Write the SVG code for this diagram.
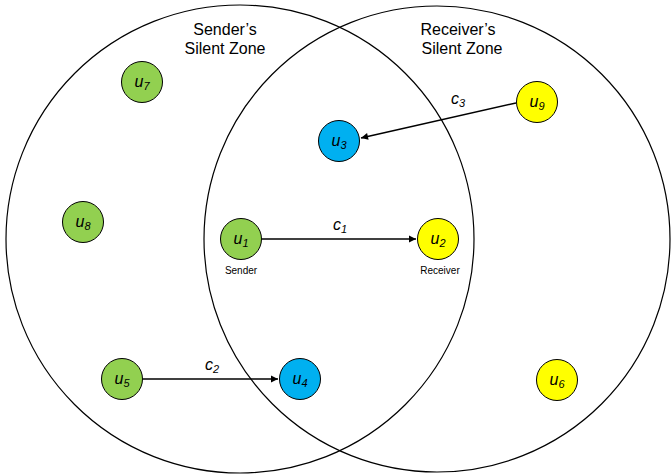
<svg xmlns="http://www.w3.org/2000/svg" width="671" height="475" viewBox="0 0 671 475">
<style>
.zone{fill:none;stroke:#000;stroke-width:1.2}
.g{fill:#92D050;stroke:#000;stroke-width:1}
.b{fill:#00B0F0;stroke:#000;stroke-width:1}
.y{fill:#FFFF00;stroke:#000;stroke-width:1}
.lbl{font-family:"Liberation Sans",Arial,sans-serif;font-style:italic;font-size:16px;text-anchor:middle}
.sub{font-size:11px}
.ttl{font-family:"Liberation Sans",Arial,sans-serif;font-size:16px;text-anchor:middle}
.small{font-family:"Liberation Sans",Arial,sans-serif;font-size:10px;text-anchor:middle}
.edge{stroke:#000;stroke-width:1.5;fill:none;marker-end:url(#ah)}
</style>
<defs>
<marker id="ah" viewBox="0 0 10 10" refX="10" refY="5" markerWidth="7" markerHeight="7" markerUnits="userSpaceOnUse" orient="auto" overflow="visible">
<path d="M0,0 L10,5 L0,10 z" fill="#000"/>
</marker>
</defs>
<rect width="671" height="475" fill="#fff"/>
<g id="zone-sender">
<circle class="zone" cx="240" cy="239" r="234"/>
<text class="ttl" x="225" y="35">Sender’s</text>
<text class="ttl" x="225" y="54">Silent Zone</text>
</g>
<g id="zone-receiver">
<circle class="zone" cx="437" cy="239" r="233"/>
<text class="ttl" x="458" y="35">Receiver’s</text>
<text class="ttl" x="462" y="54">Silent Zone</text>
</g>
<g id="connectors">
<line class="edge" x1="262" y1="239" x2="416" y2="239"/>
<text class="lbl" x="340" y="230">c<tspan class="sub" dy="3">1</tspan></text>
<line class="edge" x1="143" y1="379" x2="278" y2="379"/>
<text class="lbl" x="212" y="370">c<tspan class="sub" dy="3">2</tspan></text>
<line class="edge" x1="516" y1="103" x2="361" y2="138"/>
<text class="lbl" x="458" y="104">c<tspan class="sub" dy="3">3</tspan></text>
</g>
<g id="u1"><circle class="g" cx="241" cy="239" r="20.5"/><text class="lbl" x="241" y="244">u<tspan class="sub" dy="3">1</tspan></text><text class="small" x="241" y="274">Sender</text></g>
<g id="u2"><circle class="y" cx="438" cy="239" r="20.5"/><text class="lbl" x="438" y="244">u<tspan class="sub" dy="3">2</tspan></text><text class="small" x="440" y="274">Receiver</text></g>
<g id="u3"><circle class="b" cx="339" cy="141" r="20.5"/><text class="lbl" x="339" y="146">u<tspan class="sub" dy="3">3</tspan></text></g>
<g id="u4"><circle class="b" cx="300" cy="379" r="20.5"/><text class="lbl" x="300" y="384">u<tspan class="sub" dy="3">4</tspan></text></g>
<g id="u5"><circle class="g" cx="122" cy="379" r="20.5"/><text class="lbl" x="122" y="384">u<tspan class="sub" dy="3">5</tspan></text></g>
<g id="u6"><circle class="y" cx="557" cy="380" r="20.5"/><text class="lbl" x="557" y="385">u<tspan class="sub" dy="3">6</tspan></text></g>
<g id="u7"><circle class="g" cx="142" cy="82" r="20.5"/><text class="lbl" x="142" y="87">u<tspan class="sub" dy="3">7</tspan></text></g>
<g id="u8"><circle class="g" cx="83" cy="222" r="20.5"/><text class="lbl" x="83" y="227">u<tspan class="sub" dy="3">8</tspan></text></g>
<g id="u9"><circle class="y" cx="537" cy="102" r="20.5"/><text class="lbl" x="537" y="107">u<tspan class="sub" dy="3">9</tspan></text></g>
</svg>
